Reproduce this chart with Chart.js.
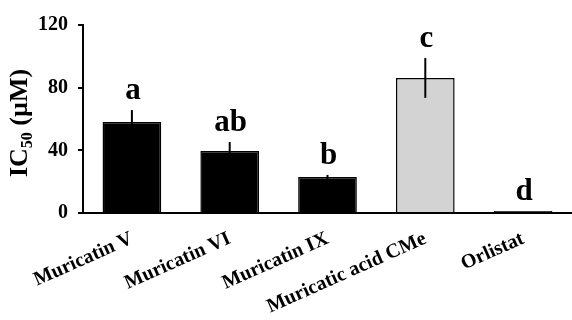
<!DOCTYPE html>
<html>
<head>
<meta charset="utf-8">
<script src="https://cdn.jsdelivr.net/npm/chart.js@4/dist/chart.umd.min.js"></script>
<style>
  html, body { margin: 0; padding: 0; background: #fff; overflow: hidden; }
  #wrap { width: 572px; height: 320px; position: relative; }
</style>
</head>
<body>
<div id="wrap"><canvas id="c"></canvas></div>
<script>
// IC50 values (µM), mean ± error, with significance group letters
const categories = ['Muricatin V', 'Muricatin VI', 'Muricatin IX', 'Muricatic acid CMe', 'Orlistat'];
const ic50Mean = [58.1, 39.6, 23.0, 86.2, 1.2];
const ic50Err = [7.6, 5.7, 1.3, 12.7, 0];
const groupLetters = ['a', 'ab', 'b', 'c', 'd'];
const yTicks = [0, 40, 80, 120];

const barFill = ['#000000', '#000000', '#000000', '#d3d3d3', '#000000'];
const serif = '"Liberation Serif", "Times New Roman", serif';

// error whiskers, group letters and the y-axis title with subscript
const annotations = {
  id: 'annotations',
  afterDatasetsDraw(chart) {
    const ctx = chart.ctx;
    const y = chart.scales.y;
    const meta = chart.getDatasetMeta(0);
    ctx.save();
    ctx.strokeStyle = '#000';
    ctx.fillStyle = '#000';
    ctx.lineWidth = 2;
    meta.data.forEach((bar, i) => {
      const m = ic50Mean[i], e = ic50Err[i];
      if (e > 0) {
        ctx.beginPath();
        ctx.moveTo(bar.x, y.getPixelForValue(m - e));
        ctx.lineTo(bar.x, y.getPixelForValue(m + e));
        ctx.stroke();
      }
      ctx.font = 'bold 31px ' + serif;
      ctx.textAlign = 'center';
      ctx.textBaseline = 'alphabetic';
      ctx.fillText(groupLetters[i], bar.x + 1, y.getPixelForValue(m + e) - 11);
    });
    ctx.restore();
  },
  afterDraw(chart) {
    const ctx = chart.ctx;
    const area = chart.chartArea;
    const big = 'bold 26px ' + serif;
    const small = 'bold 16px ' + serif;
    ctx.save();
    ctx.font = big;
    const w1 = ctx.measureText('IC').width;
    const w3 = ctx.measureText(' (\u00B5M)').width;
    ctx.font = small;
    const w2 = ctx.measureText('50').width;
    const total = w1 + w2 + w3;
    ctx.translate(27, (area.top + area.bottom) / 2 + 4);
    ctx.rotate(-Math.PI / 2);
    ctx.fillStyle = '#000';
    ctx.textAlign = 'left';
    ctx.textBaseline = 'alphabetic';
    let x = -total / 2;
    ctx.font = big;
    ctx.fillText('IC', x, 0);
    x += w1;
    ctx.font = small;
    ctx.fillText('50', x, 5);
    x += w2;
    ctx.font = big;
    ctx.fillText(' (\u00B5M)', x, 0);
    ctx.restore();
  }
};

new Chart(document.getElementById('c'), {
  type: 'bar',
  data: {
    labels: categories,
    datasets: [{
      data: ic50Mean,
      backgroundColor: barFill,
      borderColor: '#000',
      borderWidth: 1.5,
      barPercentage: 0.6,
      categoryPercentage: 1.0
    }]
  },
  options: {
    responsive: true,
    maintainAspectRatio: false,
    devicePixelRatio: 1,
    animation: false,
    layout: { padding: { top: 25, right: 0, left: 0, bottom: 0 } },
    plugins: { legend: { display: false }, tooltip: { enabled: false } },
    scales: {
      x: {
        grid: { display: false, drawTicks: false },
        border: { display: true, color: '#000', width: 2 },
        ticks: {
          color: '#000',
          font: { family: serif, size: 20, weight: 'bold' },
          minRotation: 24,
          maxRotation: 24,
          autoSkip: false,
          padding: 14
        },
        afterFit(scale) { scale.height = 107; }
      },
      y: {
        min: 0,
        max: 120,
        afterBuildTicks(scale) { scale.ticks = yTicks.map(v => ({ value: v })); },
        grid: { drawOnChartArea: false, drawTicks: true, tickLength: 5, color: '#000', lineWidth: 2 },
        border: { display: true, color: '#000', width: 2 },
        ticks: {
          color: '#000',
          font: { family: serif, size: 20, weight: 'bold' },
          padding: 10
        },
        afterFit(scale) { scale.width = 83; }
      }
    }
  },
  plugins: [annotations]
});
</script>
</body>
</html>
